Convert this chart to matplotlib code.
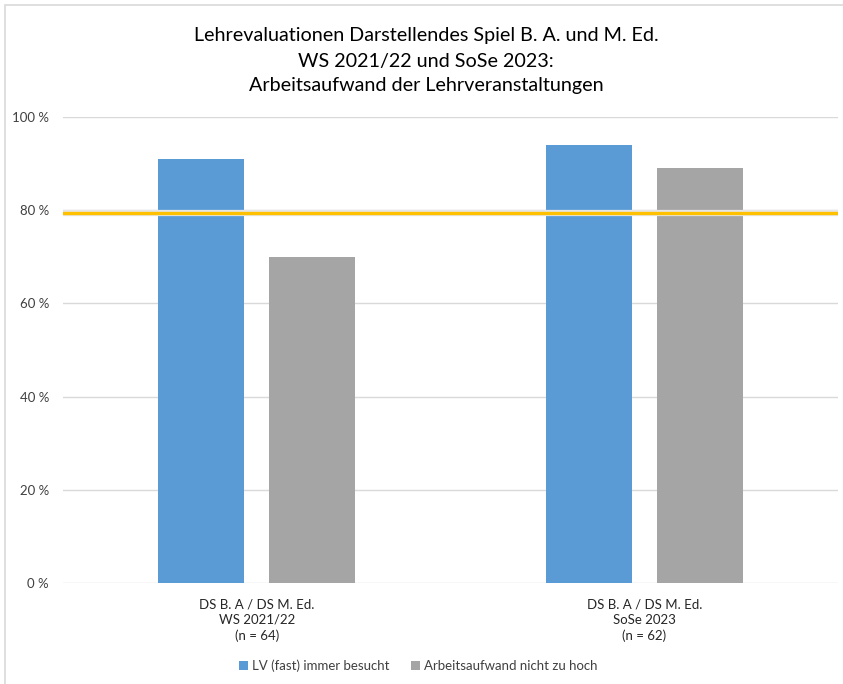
import numpy as np
import matplotlib.pyplot as plt
from matplotlib.patches import Rectangle

plt.rcParams['font.family'] = ['Lato', 'DejaVu Sans']

# data
groups = ['DS B. A / DS M. Ed.\nWS 2021/22\n(n = 64)',
          'DS B. A / DS M. Ed.\nSoSe 2023\n(n = 62)']
besucht = [91, 94]
aufwand = [70, 89]
ziel = 79.5
yticks = [0, 20, 40, 60, 80, 100]

blue = '#5B9BD5'
grey = '#A5A5A5'
gold = '#FFC000'

fig = plt.figure(figsize=(8.43, 6.84), dpi=100)
ax = fig.add_axes([63 / 843, 1 - 583 / 684, 775 / 843, 466 / 684])

# outer chart frame (left and top visible)
fig.patches.append(Rectangle((5 / 843, -0.05), 1.1, 1 - 5 / 684 + 0.05,
                             transform=fig.transFigure, fill=False,
                             edgecolor='#D9D9D9', linewidth=1.2))

x = np.arange(len(groups))
w = 0.222
off = 0.143
ax.bar(x - off, besucht, w, color=blue, label='LV (fast) immer besucht', zorder=3)
ax.bar(x + off, aufwand, w, color=grey, label='Arbeitsaufwand nicht zu hoch', zorder=3)

# target line with a faint shadow
ax.axhline(ziel, color='#E6E6E6', linewidth=4.5, zorder=3.5)
ax.axhline(ziel, color=gold, linewidth=2.4, zorder=4)

ax.set_xlim(-0.5, 1.5)
ax.set_ylim(0, 100)
ax.set_yticks(yticks)
ax.set_yticklabels([f'{t} %' for t in yticks], fontsize=9.5, color='#404040')
ax.set_xticks(x)
ax.set_xticklabels(groups, fontsize=9.5, color='#262626', linespacing=1.35)
ax.tick_params(axis='y', length=0, pad=10)
ax.tick_params(axis='x', length=0, pad=11)
ax.grid(axis='y', color='#D9D9D9', linewidth=1, zorder=0)
for s in ax.spines.values():
    s.set_visible(False)

tx = 426 / 843
fig.text(tx, 1 - 35 / 684, 'Lehrevaluationen Darstellendes Spiel B. A. und M. Ed.',
         ha='center', va='center', fontsize=14.2, color='#000000')
fig.text(tx, 1 - 61 / 684, 'WS 2021/22 und SoSe 2023:',
         ha='center', va='center', fontsize=14.2, color='#000000')
fig.text(tx, 1 - 86 / 684, 'Arbeitsaufwand der Lehrveranstaltungen',
         ha='center', va='center', fontsize=14.2, color='#000000')

ax.legend(loc='center', bbox_to_anchor=(0.458, (583 - 666) / 466), ncol=2,
          frameon=False, fontsize=9.5, handlelength=0.7, handleheight=0.7,
          columnspacing=1.6, handletextpad=0.3, labelcolor='#404040')

fig.savefig('out.png', dpi=100, facecolor='white')
